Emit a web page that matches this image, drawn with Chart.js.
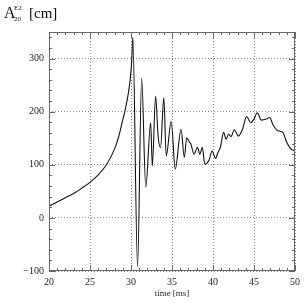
<!DOCTYPE html>
<html>
<head>
<meta charset="utf-8">
<script src="https://cdn.jsdelivr.net/npm/chart.js@4"></script>
<style>
  html, body { margin: 0; padding: 0; background: #fff; }
  #wrap { width: 305px; height: 305px; }
</style>
</head>
<body>
<div id="wrap"><canvas id="ampChart" width="305" height="305"></canvas></div>
<script>
// time axis [ms]
const times = [20, 21, 22, 23, 24, 25, 26, 27, 28, 28.5, 29, 29.3, 29.6, 29.9, 30.1, 30.22,
  30.8, 31.3, 31.8, 32.4, 32.6, 33.0, 33.3, 33.6, 34.0, 34.3, 34.9, 35.4,
  36.1, 36.5, 36.8, 37.1, 37.3, 37.7, 38.1, 38.4, 38.7, 39.0, 39.5, 39.9, 40.3, 40.6,
  40.9, 41.3, 41.6, 41.9, 42.2, 42.6, 43.1, 43.6, 44.1, 44.6, 45.0, 45.4, 45.9, 46.5,
  46.9, 47.3, 47.9, 48.5, 49.0, 49.5, 50.0];
// A20 E2 amplitude [cm]
const amplitude = [22, 30, 38, 46, 56, 67, 81, 100, 130, 153, 185, 204, 228, 260, 298, 340,
  -92, 263, 58, 179, 98, 229, 155, 132, 226, 117, 182, 92,
  167, 114, 151, 143, 139, 120, 133, 120, 133, 101, 108, 126, 112, 123,
  133, 161, 148, 158, 153, 166, 154, 167, 191, 179, 186, 198, 184, 186,
  189, 176, 164, 161, 142, 130, 126];

const xTickVals = [20, 25, 30, 35, 40, 45, 50];
const yTickVals = [-100, 0, 100, 200, 300];

const serif = '"Liberation Serif", "DejaVu Serif", serif';

// inward tick marks on all four sides + title
const frameTicks = {
  id: 'frameTicks',
  afterDraw(chart) {
    const { ctx, chartArea: a, scales } = chart;
    const xs = scales.x, ys = scales.y;
    ctx.save();
    ctx.strokeStyle = '#666';
    ctx.lineWidth = 1;
    ctx.beginPath();
    for (let v = xs.min; v <= xs.max; v += 1) {
      const px = Math.round(xs.getPixelForValue(v)) + 0.5;
      const len = v % 5 === 0 ? 6 : 3;
      ctx.moveTo(px, a.bottom); ctx.lineTo(px, a.bottom - len);
      ctx.moveTo(px, a.top); ctx.lineTo(px, a.top + len);
    }
    for (let v = ys.min; v <= ys.max; v += 20) {
      const py = Math.round(ys.getPixelForValue(v)) + 0.5;
      const len = v % 100 === 0 ? 6 : 3;
      ctx.moveTo(a.left, py); ctx.lineTo(a.left + len, py);
      ctx.moveTo(a.right, py); ctx.lineTo(a.right - len, py);
    }
    ctx.stroke();
    ctx.strokeRect(a.left + 0.5, a.top + 0.5, a.right - a.left - 1, a.bottom - a.top - 1);

    // y title: A^{E2}_{20} [cm]
    ctx.fillStyle = '#111';
    ctx.textBaseline = 'alphabetic';
    ctx.font = '16px ' + serif;
    ctx.fillText('A', 4, 18);
    ctx.font = '7px ' + serif;
    ctx.fillText('E2', 14, 10);
    ctx.fillText('20', 14, 21);
    ctx.font = '15px ' + serif;
    ctx.fillText('[cm]', 29, 18);
    ctx.restore();
  }
};

new Chart(document.getElementById('ampChart'), {
  type: 'scatter',
  data: {
    datasets: [{
      data: times.map((t, i) => ({ x: t, y: amplitude[i] })),
      showLine: true,
      borderColor: '#111',
      borderWidth: 1.1,
      pointRadius: 0,
      cubicInterpolationMode: 'monotone'
    }]
  },
  options: {
    responsive: false,
    animation: false,
    layout: { padding: { left: 0, right: 6, top: 32, bottom: 0 } },
    plugins: { legend: { display: false }, tooltip: { enabled: false } },
    scales: {
      x: {
        type: 'linear',
        min: 20, max: 50,
        afterBuildTicks: s => { s.ticks = xTickVals.map(v => ({ value: v })); },
        afterFit: s => { s.height = 34; },
        grid: { color: '#888', drawTicks: false, tickLength: 0 },
        border: { display: false, dash: [1, 2] },
        ticks: { color: '#222', padding: 5, maxRotation: 0, font: { family: serif, size: 10 } },
        title: { display: true, text: 'time [ms]', color: '#222', padding: { top: 0, bottom: 6 }, font: { family: serif, size: 9 } }
      },
      y: {
        type: 'linear',
        min: -100, max: 350,
        afterBuildTicks: s => { s.ticks = yTickVals.map(v => ({ value: v })); },
        afterFit: s => { s.width = 49; },
        grid: { color: '#888', drawTicks: false, tickLength: 0 },
        border: { display: false, dash: [1, 2] },
        ticks: {
          color: '#222', padding: 5, font: { family: serif, size: 10 },
          callback: v => (v < 0 ? '\u2212' + Math.abs(v) : String(v))
        }
      }
    }
  },
  plugins: [frameTicks]
});
</script>
</body>
</html>
